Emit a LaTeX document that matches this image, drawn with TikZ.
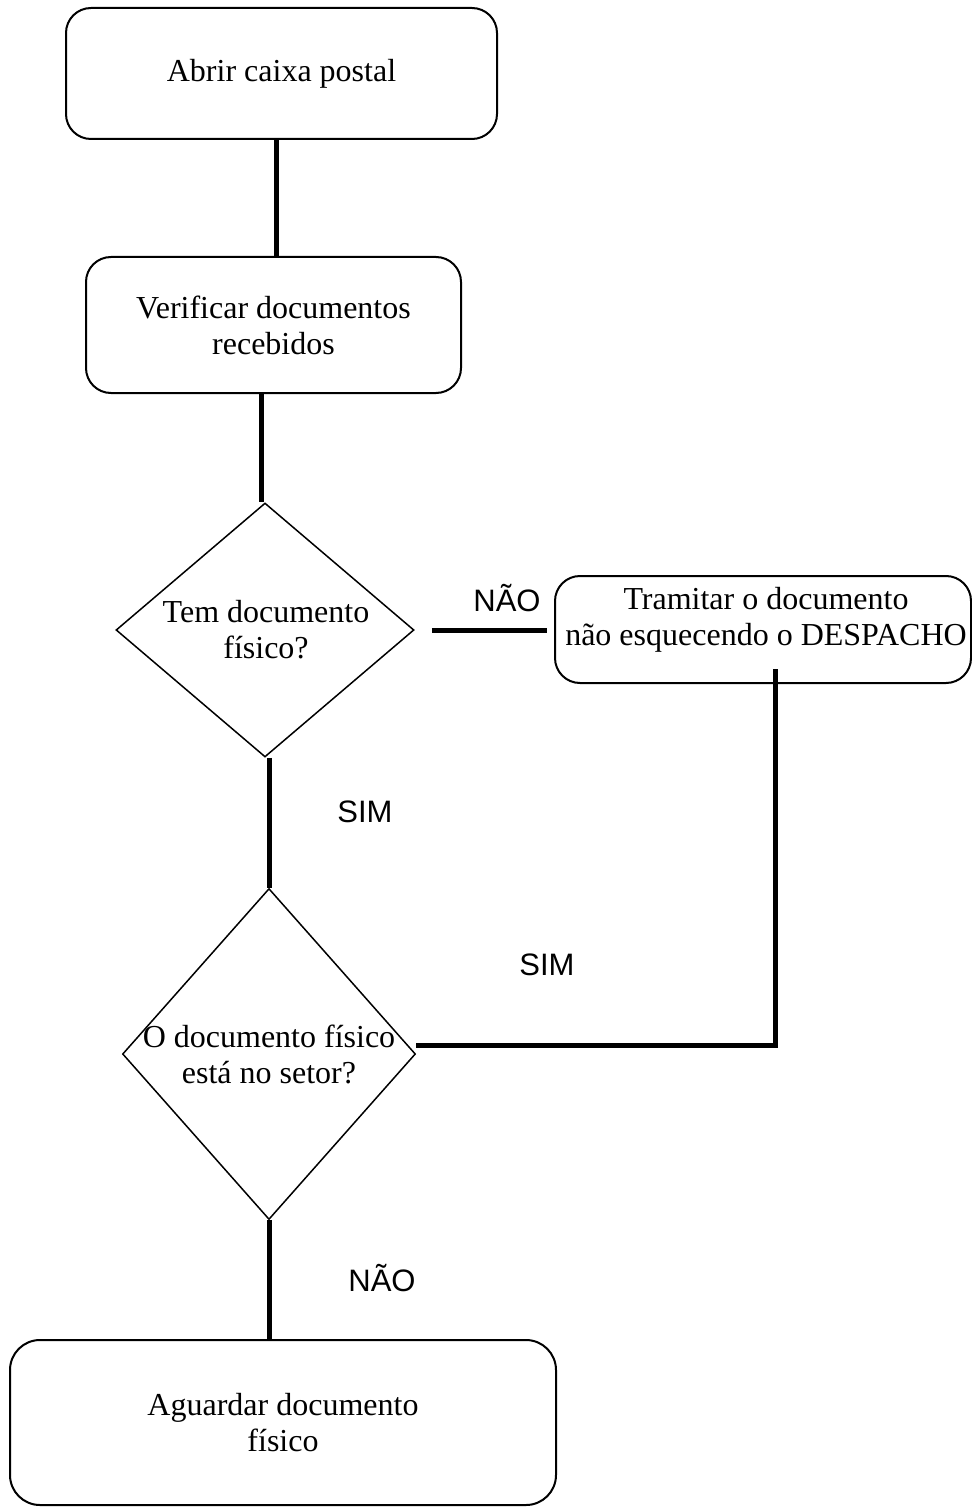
\documentclass[tikz,border=0pt]{standalone}
\usepackage{fontspec}
\setmainfont{Liberation Serif}
\newfontfamily\arialfont{Liberation Sans}
\usetikzlibrary{shapes.geometric}

\begin{document}
\begin{tikzpicture}[x=0.5pt, y=-0.5pt,
	procbox/.style={draw, line width=1pt, rounded corners=12.5pt,
		font=\fontsize{16}{18}\selectfont, align=center, inner sep=0pt},
	decision/.style={draw, line width=0.75pt, shape=diamond, inner sep=0pt},
	conn/.style={line width=2.5pt},
	answer/.style={font=\arialfont\fontsize{15.5}{18}\selectfont}]
	
	\useasboundingbox (0,0) rectangle (971,1508);
	
	% --- Nodes ---
	% Abrir caixa postal
	\node[procbox, minimum width=215.5pt, minimum height=65.5pt]
	(abrir) at (281.5, 73.5) {Abrir caixa postal};
	
	% Verificar documentos
	\node[procbox, minimum width=187.5pt, minimum height=68pt]
	(verif) at (273.5, 325) {Verificar documentos\\recebidos};
	
	% Tem documento fisico?
	\node[decision, minimum width=149pt, minimum height=127pt]
	(tem) at (265, 630) {};
	\node[font=\fontsize{16}{18}\selectfont, align=center]
	(temtxt) at (266, 630) {Tem documento\\físico?};
	
	% Tramitar
	\node[procbox, minimum width=208pt, minimum height=53.5pt]
	(tramitar) at (763, 629.5) {};
	\node[font=\fontsize{16}{18}\selectfont, align=center]
	(tramtxt) at (766, 620) {Tramitar o documento\\não esquecendo o DESPACHO};
	
	% O documento fisico esta no setor?
	\node[decision, minimum width=146.5pt, minimum height=165.5pt]
	(fisico) at (269, 1054) {};
	\node[font=\fontsize{16}{18}\selectfont, align=center]
	(fistxt) at (269, 1054) {O documento físico\\está no setor?};
	
	% Aguardar documento fisico
	\node[procbox, rounded corners=15pt, minimum width=273pt, minimum height=82.5pt]
	(aguardar) at (283, 1422.5) {Aguardar documento\\físico};
	
	% --- Connectors ---
	\draw[conn] (abrir.south -| 276,0) -- (verif.north -| 276,0);
	\draw[conn] (verif.south -| 261,0) -- (tem.north -| 261,0);
	\draw[conn, shorten <=8.5pt, shorten >=3.5pt] (tem.east) -- (tramitar.west |- tem.east);
	\draw[conn] (tem.south -| fisico.north) -- (fisico.north);
	\draw[conn] ([xshift=6pt, yshift=7.5pt]tramitar.south) |- ([yshift=4.5pt]fisico.east);
	\draw[conn] (fisico.south) -- (fisico.south |- aguardar.north);
	
	% Labels
	\node[answer] (nao1) at (507, 598) {NÃO};
	\node[answer] (sim1) at (365, 812) {SIM};
	\node[answer] (sim2) at (547, 965) {SIM};
	\node[answer] (nao2) at (382, 1278) {NÃO};
	
\end{tikzpicture}
\end{document}
